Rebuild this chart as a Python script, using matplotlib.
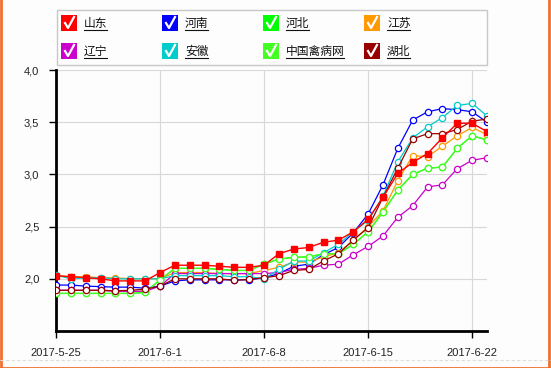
import numpy as np
import matplotlib.pyplot as plt
from matplotlib.patches import Rectangle
from matplotlib.lines import Line2D

plt.rcParams['font.family'] = ['Liberation Sans', 'Noto Sans CJK SC', 'DejaVu Sans']

# 2017-5-25 .. 2017-6-23, one point per day
days = np.arange(30)
tick_days = [0, 7, 14, 21, 28]
tick_labels = ['2017-5-25', '2017-6-1', '2017-6-8', '2017-6-15', '2017-6-22']

shandong = [2.03, 2.02, 2.01, 2.00, 1.98, 1.98, 1.98, 2.06, 2.13, 2.13, 2.13, 2.12, 2.11, 2.11, 2.13,
            2.24, 2.285, 2.30, 2.35, 2.37, 2.45, 2.57, 2.78, 3.01, 3.115, 3.20, 3.35, 3.49, 3.49, 3.41]
henan = [1.94, 1.94, 1.93, 1.925, 1.92, 1.92, 1.91, 1.93, 1.98, 1.99, 1.99, 1.99, 1.99, 1.99, 2.01,
         2.05, 2.12, 2.14, 2.23, 2.30, 2.44, 2.62, 2.90, 3.25, 3.52, 3.60, 3.63, 3.62, 3.60, 3.50]
hebei = [1.86, 1.86, 1.86, 1.86, 1.86, 1.86, 1.87, 1.99, 2.10, 2.10, 2.10, 2.09, 2.08, 2.08, 2.14,
         2.19, 2.205, 2.21, 2.24, 2.24, 2.33, 2.45, 2.64, 2.85, 3.00, 3.06, 3.07, 3.25, 3.37, 3.33]
jiangsu = [2.03, 2.02, 2.02, 2.01, 2.01, 2.00, 2.00, 2.00, 2.06, 2.06, 2.06, 2.05, 2.05, 2.05, 2.08,
           2.11, 2.16, 2.16, 2.21, 2.25, 2.37, 2.50, 2.65, 2.94, 3.18, 3.17, 3.27, 3.37, 3.45, 3.38]
liaoning = [1.89, 1.89, 1.89, 1.89, 1.88, 1.88, 1.88, 1.93, 2.05, 2.05, 2.05, 2.05, 2.05, 2.05, 2.05,
            2.06, 2.09, 2.10, 2.13, 2.14, 2.23, 2.31, 2.41, 2.59, 2.70, 2.88, 2.90, 3.055, 3.135, 3.16]
anhui = [2.035, 2.00, 2.01, 2.01, 2.00, 2.00, 2.00, 2.00, 2.03, 2.03, 2.03, 2.03, 2.02, 2.02, 2.00,
         2.09, 2.17, 2.17, 2.25, 2.33, 2.45, 2.56, 2.79, 3.12, 3.35, 3.455, 3.545, 3.66, 3.68, 3.56]
qinbing = [1.86, 1.86, 1.86, 1.86, 1.86, 1.86, 1.87, 1.99, 2.10, 2.10, 2.10, 2.09, 2.08, 2.08, 2.14,
           2.19, 2.205, 2.21, 2.24, 2.24, 2.33, 2.45, 2.64, 2.85, 3.00, 3.06, 3.07, 3.25, 3.37, 3.33]
hubei = [1.89, 1.89, 1.89, 1.89, 1.885, 1.89, 1.90, 1.93, 2.00, 2.00, 2.00, 2.00, 1.985, 1.995, 2.01,
         2.03, 2.08, 2.09, 2.17, 2.24, 2.37, 2.49, 2.78, 3.06, 3.34, 3.39, 3.39, 3.43, 3.51, 3.53]

names = ['山东', '河南', '河北', '江苏', '辽宁', '安徽', '中国禽病网', '湖北']
values = [shandong, henan, hebei, jiangsu, liaoning, anhui, qinbing, hubei]
colors = ['#ff0000', '#0000ff', '#00ff00', '#ff9900', '#cc00cc', '#00cccc', '#44ff22', '#990000']

W, H = 551, 368
fig = plt.figure(figsize=(W / 100, H / 100), dpi=100)
fig.patch.set_facecolor('#fcfdfc')

ax = fig.add_axes([56 / W, (H - 331) / H, (487 - 56) / W, (331 - 70) / H])
ax.set_facecolor('#fcfdfc')

order = [7, 6, 5, 4, 3, 2, 1, 0]
for i in order:
    if i == 0:
        ax.plot(days, values[i], color=colors[i], lw=1, marker='s', ms=4.2,
                mfc=colors[i], mec=colors[i], zorder=10)
    else:
        ax.plot(days, values[i], color=colors[i], lw=0.9, marker='o', ms=4.5,
                mfc='white', mec=colors[i], mew=0.9, zorder=3 + i)

ax.set_xlim(0, 29)
ax.set_ylim(1.5, 4.0)
ax.set_xticks(tick_days)
ax.set_xticklabels(tick_labels, fontsize=8, color='#222222')
yt = [2.0, 2.5, 3.0, 3.5, 4.0]
ax.set_yticks(yt)
ax.set_yticklabels([('%.1f' % v).replace('.', ',') for v in yt], fontsize=8, color='#222222')
ax.grid(True, color='#d8d8d8', lw=0.8)
ax.set_axisbelow(True)
for s in ['top', 'right']:
    ax.spines[s].set_visible(False)
for s in ['left', 'bottom']:
    ax.spines[s].set_linewidth(2)
ax.tick_params(axis='both', length=5, width=1, color='black', pad=7)

# legend box with check boxes
fig.add_artist(Rectangle((57 / W, 1 - 65 / H), (487 - 57) / W, 55 / H, transform=fig.transFigure,
                         fill=False, ec='#c8c8c8', lw=1))
for k, name in enumerate(names):
    col = k % 4
    row = k // 4
    bx = 61 + 101 * col
    by = 15 + 28 * row
    fig.add_artist(Rectangle((bx / W, 1 - (by + 16) / H), 16 / W, 16 / H, transform=fig.transFigure,
                             fc=colors[k], ec='none'))
    cx = [bx + 4, bx + 7, bx + 13]
    cy = [by + 8, by + 13, by + 2]
    fig.add_artist(Line2D([x / W for x in cx], [1 - y / H for y in cy], transform=fig.transFigure,
                          color='white', lw=1.6))
    tx = bx + 23
    t = fig.text(tx / W, 1 - (by + 8) / H, name, fontsize=8.5, va='center', ha='left',
                 family=['Noto Sans CJK SC', 'DejaVu Sans'], color='#111111')
    tw = 11.5 * len(name)
    fig.add_artist(Line2D([tx / W, (tx + tw) / W], [1 - (by + 15) / H] * 2, transform=fig.transFigure,
                          color='#111111', lw=0.8))

# page frame
fig.add_artist(Line2D([0.5 / W, 0.5 / W], [0, 1], transform=fig.transFigure, color='#f07030', lw=2))
fig.add_artist(Line2D([1 - 2 / W, 1 - 2 / W], [0, 1], transform=fig.transFigure, color='#f07030', lw=2))
fig.add_artist(Line2D([0, 1], [0.5 / H, 0.5 / H], transform=fig.transFigure, color='#f07030', lw=2))
fig.add_artist(Line2D([0, 1], [1 - 360 / H] * 2, transform=fig.transFigure, color='#dddddd', lw=0.8,
                      ls=(0, (3, 2))))

fig.savefig('out.png', dpi=100, facecolor=fig.get_facecolor())
